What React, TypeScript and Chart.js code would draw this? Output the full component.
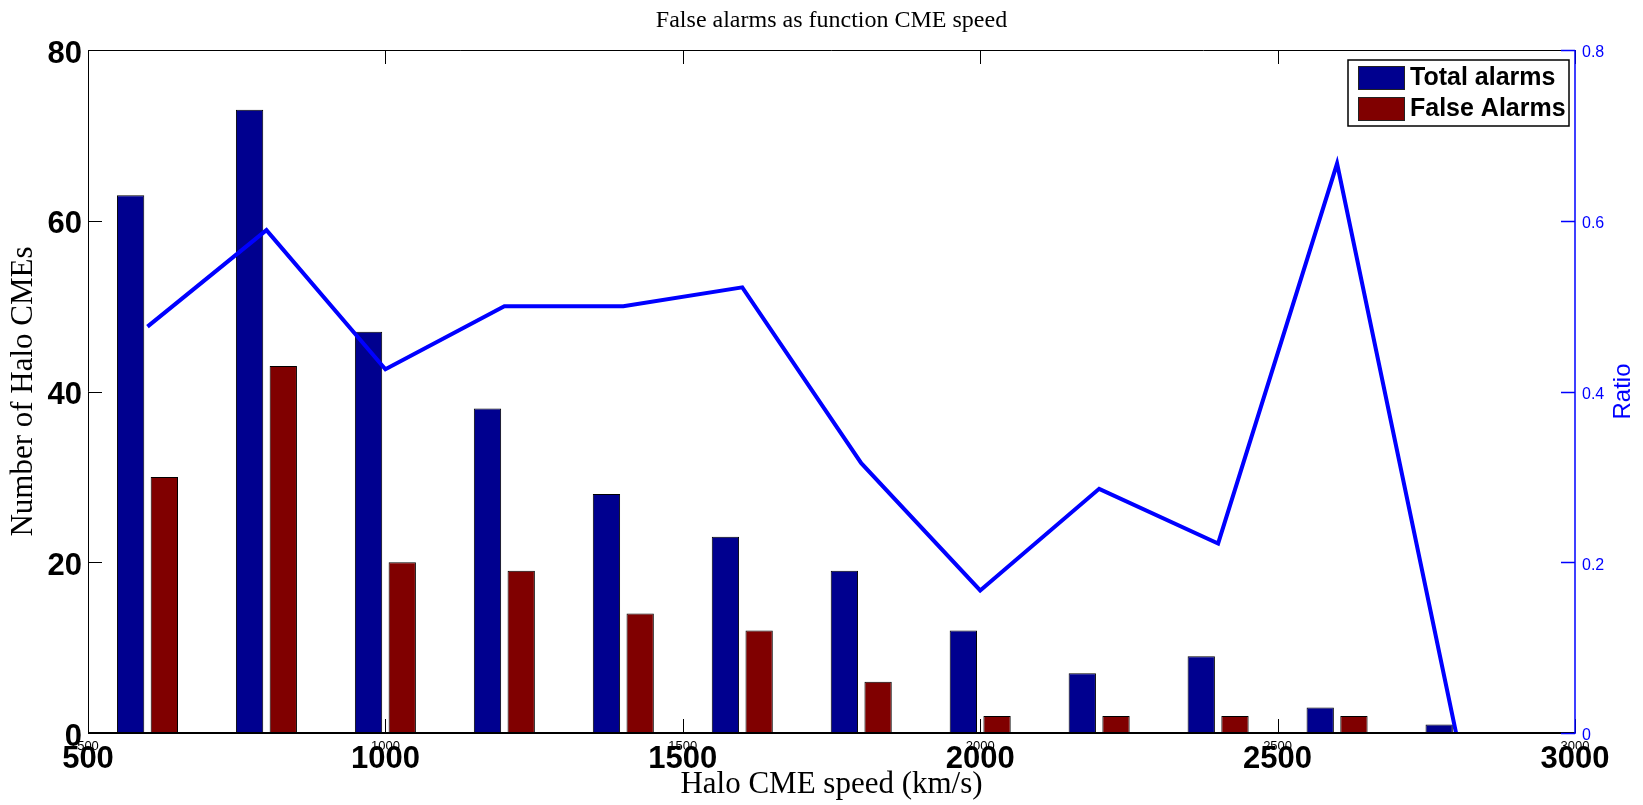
import React, { useEffect, useRef } from "react";
import { Chart, registerables } from "chart.js";

Chart.register(...registerables);

// Binned halo CME speeds (km/s) and alarm counts per bin
const speeds = [600, 800, 1000, 1200, 1400, 1600, 1800, 2000, 2200, 2400, 2600, 2800];
const totalAlarms = [63, 73, 47, 38, 28, 23, 19, 12, 7, 9, 3, 1];
const falseAlarms = [30, 43, 20, 19, 14, 12, 6, 2, 2, 2, 2, 0];
const falseRatio = [0.476, 0.589, 0.426, 0.5, 0.5, 0.522, 0.316, 0.167, 0.286, 0.222, 0.667, 0];

const speedTicks = [500, 1000, 1500, 2000, 2500, 3000];
const countTicks = [0, 20, 40, 60, 80];
const ratioTicks = [0, 0.2, 0.4, 0.6, 0.8];

const W = 1643;
const H = 805;
const AREA = { left: 88, right: 1575, top: 50, bottom: 733 };
const TICK_LEN = 14;
const RATIO_BLUE = "#0000ff";

const SANS = '"Liberation Sans", Arial, Helvetica, sans-serif';
const SERIF = '"Liberation Serif", "Times New Roman", serif';

// Draws the boxed axes with inward ticks, the blue ratio axis, the
// secondary small speed labels and the boxed legend.
const axesFrame = {
  id: "axesFrame",
  beforeDraw(chart: any) {
    const { ctx } = chart;
    ctx.save();
    ctx.fillStyle = "#fff";
    ctx.fillRect(0, 0, chart.width, chart.height);
    ctx.restore();
  },
  afterDraw(chart: any) {
    const { ctx, chartArea: a, scales } = chart;
    const xs = scales.x;
    const ys = scales.y;
    const yr = scales.yRatio;
    ctx.save();

    // secondary (small) speed tick labels
    ctx.fillStyle = "#000";
    ctx.font = `13px ${SANS}`;
    ctx.textAlign = "center";
    ctx.textBaseline = "middle";
    for (const t of xs.ticks) {
      ctx.fillText(String(t.value), xs.getPixelForValue(t.value), a.bottom + 13);
    }

    // black box
    ctx.strokeStyle = "#000";
    ctx.lineWidth = 1;
    ctx.beginPath();
    ctx.moveTo(a.left + 0.5, a.bottom);
    ctx.lineTo(a.left + 0.5, a.top + 0.5);
    ctx.lineTo(a.right, a.top + 0.5);
    ctx.stroke();

    // inward ticks on x (top and bottom)
    ctx.beginPath();
    for (const t of xs.ticks) {
      const px = Math.round(xs.getPixelForValue(t.value)) + 0.5;
      ctx.moveTo(px, a.top);
      ctx.lineTo(px, a.top + TICK_LEN);
      ctx.moveTo(px, a.bottom);
      ctx.lineTo(px, a.bottom - TICK_LEN);
    }
    // inward ticks on the count axis
    for (const t of ys.ticks) {
      const py = Math.round(ys.getPixelForValue(t.value)) + 0.5;
      ctx.moveTo(a.left, py);
      ctx.lineTo(a.left + TICK_LEN, py);
    }
    ctx.stroke();

    ctx.lineWidth = 2;
    ctx.beginPath();
    ctx.moveTo(a.left, a.bottom);
    ctx.lineTo(a.right, a.bottom);
    ctx.stroke();

    // blue ratio axis on the right
    ctx.strokeStyle = RATIO_BLUE;
    ctx.lineWidth = 1.5;
    ctx.beginPath();
    ctx.moveTo(a.right, a.top);
    ctx.lineTo(a.right, a.bottom + 1);
    for (const t of yr.ticks) {
      const py = Math.round(yr.getPixelForValue(t.value)) + 0.5;
      ctx.moveTo(a.right, py);
      ctx.lineTo(a.right - TICK_LEN, py);
    }
    ctx.stroke();

    ctx.fillStyle = RATIO_BLUE;
    ctx.font = `24px ${SANS}`;
    ctx.translate(a.right + 48, (a.top + a.bottom) / 2);
    ctx.rotate(-Math.PI / 2);
    ctx.textAlign = "center";
    ctx.textBaseline = "middle";
    ctx.fillText("Ratio", 0, 0);
    ctx.setTransform(1, 0, 0, 1, 0, 0);

    // legend
    const bx = 1348, by = 60, bw = 221, bh = 66;
    ctx.fillStyle = "#fff";
    ctx.fillRect(bx, by, bw, bh);
    ctx.strokeStyle = "#000";
    ctx.lineWidth = 1.5;
    ctx.strokeRect(bx, by, bw, bh);
    const bars = chart.data.datasets.filter((d: any) => d.type !== "line");
    ctx.font = `bold 25px ${SANS}`;
    ctx.textAlign = "left";
    ctx.textBaseline = "middle";
    bars.forEach((d: any, i: number) => {
      const ry = by + 6 + i * 31;
      ctx.fillStyle = d.backgroundColor;
      ctx.fillRect(bx + 10, ry, 46, 23);
      ctx.lineWidth = 1;
      ctx.strokeStyle = "#222";
      ctx.strokeRect(bx + 10.5, ry + 0.5, 46, 23);
      ctx.fillStyle = "#000";
      ctx.fillText(d.label, bx + 62, ry + 12.5);
    });

    ctx.restore();
  },
};

const toPoints = (ys: number[]) => speeds.map((s, i) => ({ x: s, y: ys[i] }));

export default function App() {
  const canvasRef = useRef<HTMLCanvasElement>(null);

  useEffect(() => {
    const chart = new Chart(canvasRef.current as HTMLCanvasElement, {
      type: "bar",
      data: {
        datasets: [
          {
            type: "line",
            label: "Ratio",
            data: toPoints(falseRatio),
            yAxisID: "yRatio",
            borderColor: RATIO_BLUE,
            borderWidth: 4,
            pointRadius: 0,
            tension: 0,
            fill: false,
            order: -1,
          } as any,
          {
            label: "Total alarms",
            data: toPoints(totalAlarms),
            yAxisID: "y",
            backgroundColor: "#00008f",
            borderColor: "#000",
            borderWidth: 1,
            categoryPercentage: 0.567,
            barPercentage: 0.81,
          },
          {
            label: "False Alarms",
            data: toPoints(falseAlarms),
            yAxisID: "y",
            backgroundColor: "#800000",
            borderColor: "#000",
            borderWidth: 1,
            categoryPercentage: 0.567,
            barPercentage: 0.81,
          },
        ],
      },
      options: {
        responsive: false,
        animation: false,
        devicePixelRatio: 1,
        events: [],
        layout: { padding: 0 },
        plugins: {
          legend: { display: false },
          tooltip: { enabled: false },
          title: {
            display: true,
            fullSize: false,
            text: "False alarms as function CME speed",
            color: "#000",
            font: { family: SERIF, size: 24, weight: "normal", lineHeight: 1.2 },
            padding: { top: 6.6, bottom: 50 - 6.6 - 28.8 },
          },
        },
        scales: {
          x: {
            type: "linear",
            position: "bottom",
            min: 500,
            max: 3000,
            offset: false,
            grid: { display: false, drawTicks: false },
            border: { display: false },
            afterBuildTicks: (s: any) => {
              s.ticks = speedTicks.map((v) => ({ value: v }));
            },
            ticks: {
              color: "#000",
              font: { family: SANS, size: 31, weight: "bold" },
              padding: 8,
              maxRotation: 0,
              autoSkip: false,
              callback: (v: any) => String(v),
            },
            title: {
              display: true,
              text: "Halo CME speed (km/s)",
              color: "#000",
              font: { family: SERIF, size: 31, weight: "normal", lineHeight: 1.2 },
              padding: { top: 0, bottom: 2 },
            },
            afterFit: (s: any) => {
              s.height = H - AREA.bottom;
            },
          },
          y: {
            type: "linear",
            position: "left",
            min: 0,
            max: 80,
            grid: { display: false, drawTicks: false },
            border: { display: false },
            afterBuildTicks: (s: any) => {
              s.ticks = countTicks.map((v) => ({ value: v }));
            },
            ticks: {
              color: "#000",
              font: { family: SANS, size: 31, weight: "bold" },
              padding: 6,
              labelOffset: 4,
              callback: (v: any) => String(v),
            },
            title: {
              display: true,
              text: "Number of Halo CMEs",
              color: "#000",
              font: { family: SERIF, size: 31, weight: "normal", lineHeight: 1.2 },
              padding: { top: 5, bottom: 0 },
            },
            afterFit: (s: any) => {
              s.width = AREA.left;
            },
          },
          yRatio: {
            type: "linear",
            position: "right",
            min: 0,
            max: 0.8,
            grid: { display: false, drawTicks: false },
            border: { display: false },
            afterBuildTicks: (s: any) => {
              s.ticks = ratioTicks.map((v) => ({ value: v }));
            },
            ticks: {
              color: RATIO_BLUE,
              font: { family: SANS, size: 16 },
              padding: 7,
              labelOffset: 3,
              callback: (v: any) => String(v),
            },
            afterFit: (s: any) => {
              s.width = W - AREA.right;
            },
          },
        },
      } as any,
      plugins: [axesFrame],
    });
    return () => chart.destroy();
  }, []);

  return (
    <div style={{ position: "absolute", left: 0, top: 0, width: W, height: H, background: "#fff" }}>
      <canvas ref={canvasRef} width={W} height={H} style={{ display: "block", width: W, height: H }} />
    </div>
  );
}
